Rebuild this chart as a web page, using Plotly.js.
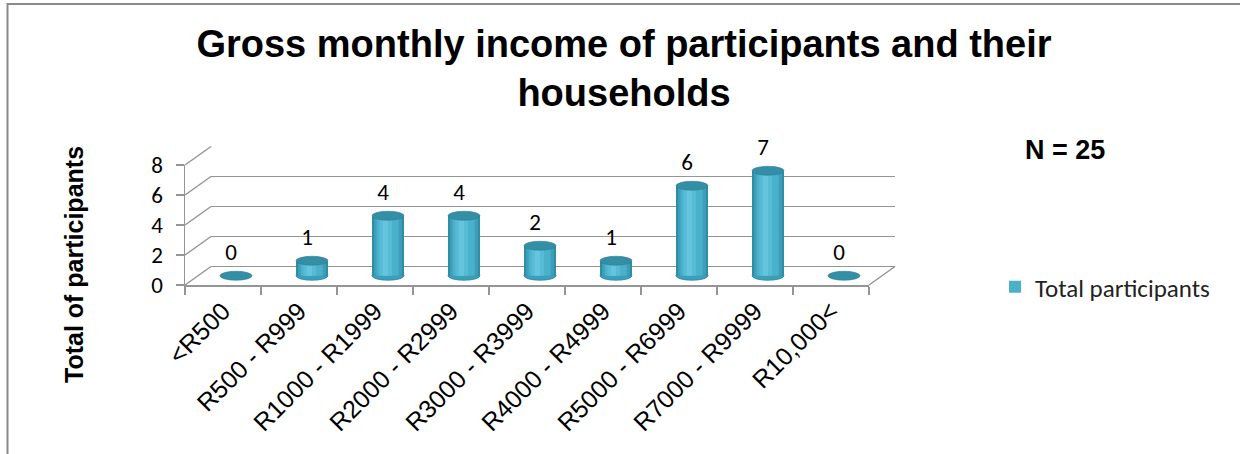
<!DOCTYPE html>
<html>
<head>
<meta charset="utf-8">
<script src="https://cdn.plot.ly/plotly-3.0.1.min.js"></script>
<style>html,body{margin:0;padding:0;background:#fff;}#chart{width:1240px;height:454px;}</style>
</head>
<body>
<div id="chart"></div>
<script>
// ---- data ----
const categories = ["<R500", "R500 - R999", "R1000 - R1999", "R2000 - R2999", "R3000 - R3999",
                    "R4000 - R4999", "R5000 - R6999", "R7000 - R9999", "R10,000<"];
const participants = [0, 1, 4, 4, 2, 1, 6, 7, 0];
const yTickValues = [0, 2, 4, 6, 8];
const seriesName = "Total participants";
const chartTitle = "Gross monthly income of participants and their<br>households";
const yTitle = "Total of participants";
const noteText = "N = 25";

// ---- geometry helpers (pixel -> paper) ----
const W = 1240, H = 454;
const px = x => x / W;
const py = y => 1 - y / H;
const FX0 = 185, FX1 = 869, FY0 = 285, FY8 = 165; // front plane (pixels)
const DX = 26, DY = 18.5;                          // depth offset to back wall (pixels)
const yMax = 8;
const fy = v => FY0 + (FY8 - FY0) * v / yMax;
const catPx = (FX1 - FX0) / categories.length;     // pixels per category
const unitPx = (FY0 - FY8) / yMax;                 // pixels per unit
const midX = (DX / 2) / catPx;                     // mid-depth shift, category units
const midY = (DY / 2) / unitPx;                    // mid-depth shift, value units

const ARIAL = "Liberation Sans, Arial, sans-serif";
const CALIBRI = "Carlito, Lato, sans-serif";
const GRID = "#959595";

// cylinder shading layers (outer -> inner); shift = extra offset of a highlight strip
const layers = [
  {w: 0.42, shift: 0, color: "#2e88a0", plane: "back"},
  {w: 0.37, shift: 0, color: "#3a9fba", plane: "front"},
  {w: 0.29, shift: -0.005, color: "#4bb0ca", plane: "front", legend: true},
  {w: 0.17, shift: -0.03, color: "#56bbd5", plane: "front"},
  {w: 0.07, shift: -0.035, color: "#66c5de", plane: "front"}
];
const RX = 0.21, RY = 0.3;

const traces = layers.map(L => {
  const back = L.plane === "back";
  return {
    type: "bar", x: categories, y: participants,
    xaxis: back ? "x" : "x2", yaxis: back ? "y" : "y2",
    base: back ? -midY : midY,
    offset: (back ? -midX : midX) - L.w / 2 + L.shift,
    width: L.w, marker: {color: L.color, line: {width: 0}},
    name: seriesName, showlegend: !!L.legend, hoverinfo: "skip"
  };
});
traces.push({
  type: "scatter", mode: "text", x: categories, y: participants,
  xaxis: "x3", yaxis: "y3", text: participants.map(String),
  textposition: "middle center", cliponaxis: false, showlegend: false,
  textfont: {family: CALIBRI, size: 23, color: "#000"}, hoverinfo: "skip"
});

const shapes = [];
// chart border
shapes.push({type: "rect", xref: "paper", yref: "paper", x0: px(7.5), x1: 1.05, y0: -0.05, y1: py(4),
             line: {color: "#8a8a8a", width: 2}, fillcolor: "rgba(0,0,0,0)"});
// diagonals from front axis to back wall
yTickValues.forEach(v => {
  shapes.push({type: "line", xref: "paper", yref: "paper",
    x0: px(FX0), y0: py(fy(v)), x1: px(FX0 + DX), y1: py(fy(v) - DY),
    line: {color: GRID, width: 1.5}});
});
// floor right edge
shapes.push({type: "line", xref: "paper", yref: "paper",
  x0: px(FX1), y0: py(FY0), x1: px(FX1 + DX), y1: py(FY0 - DY),
  line: {color: GRID, width: 1.5}});
// cylinder bottoms (behind the bodies) and tops
participants.forEach((v, i) => {
  if (v > 0) {
    shapes.push({type: "circle", xref: "x", yref: "y", layer: "between",
      x0: i - midX - RX, x1: i - midX + RX, y0: -midY - RY, y1: -midY + RY,
      fillcolor: "#3a9fba", line: {color: "#2e88a0", width: 0.8}});
  }
  shapes.push({type: "circle", xref: "x2", yref: "y2", layer: "above",
    x0: i + midX - RX, x1: i + midX + RX, y0: v + midY - RY, y1: v + midY + RY,
    fillcolor: "#338ea6", line: {color: "#2b8299", width: 0.6}});
});

const backLo = -1.3, backHi = 8.05;

const layout = {
  width: W, height: H,
  margin: {l: 0, r: 0, t: 0, b: 0},
  paper_bgcolor: "#fff", plot_bgcolor: "rgba(0,0,0,0)",
  barmode: "overlay",
  showlegend: true,
  title: {text: chartTitle, x: px(624), xanchor: "center", y: py(57), yanchor: "top",
          xref: "paper", yref: "paper",
          font: {family: ARIAL, size: 38, weight: 700, color: "#000"}},
  // back wall (grid) subplot
  xaxis: {domain: [px(FX0 + DX), px(FX1 + DX)], anchor: "y", type: "category",
          categoryorder: "array", categoryarray: categories, range: [-0.5, 8.5],
          showgrid: false, zeroline: false, showticklabels: false, ticks: "", showline: false, fixedrange: true},
  yaxis: {domain: [py(FY0 - DY - backLo * unitPx), py(FY0 - DY - backHi * unitPx)], anchor: "x",
          range: [backLo, backHi], tickmode: "array", tickvals: yTickValues,
          showgrid: true, gridcolor: GRID, gridwidth: 1.5,
          zeroline: false, showticklabels: false, ticks: "", showline: false, fixedrange: true},
  // front axes subplot
  xaxis2: {domain: [px(FX0), px(FX1)], anchor: "y2", type: "category",
           categoryorder: "array", categoryarray: categories, range: [-0.5, 8.5],
           tickson: "boundaries", ticks: "outside", ticklen: 8, tickcolor: GRID, tickwidth: 1.5,
           tickangle: -45, tickfont: {family: ARIAL, size: 25, color: "#000"},
           showline: true, linecolor: GRID, linewidth: 1.5, showgrid: false, zeroline: false, fixedrange: true},
  yaxis2: {domain: [py(FY0), py(FY8)], anchor: "x2", range: [0, 8], tickmode: "array", tickvals: yTickValues,
           ticks: "outside", ticklen: 8, tickcolor: GRID, tickwidth: 1.5, ticklabelstandoff: 8,
           tickfont: {family: CALIBRI, size: 23, color: "#000"},
           showline: true, linecolor: GRID, linewidth: 1.5, showgrid: false, zeroline: false, fixedrange: true},
  // data labels subplot
  xaxis3: {domain: [px(FX0 + DX / 2 - 5), px(FX1 + DX / 2 - 5)], anchor: "y3", type: "category",
           categoryorder: "array", categoryarray: categories, range: [-0.5, 8.5], visible: false, fixedrange: true},
  yaxis3: {domain: [py(FY0 - DY / 2 - 21.5), py(FY8 - DY / 2 - 21.5)], anchor: "x3", range: [0, 8],
           visible: false, fixedrange: true},
  legend: {x: px(995), y: py(287), xanchor: "left", yanchor: "middle",
           font: {family: CALIBRI, size: 25, color: "#222"}, bgcolor: "rgba(0,0,0,0)"},
  annotations: [
    {text: yTitle, textangle: -90, x: px(74), y: py(265), xref: "paper", yref: "paper",
     xanchor: "center", yanchor: "middle", showarrow: false,
     font: {family: ARIAL, size: 25, weight: 700, color: "#000"}},
    {text: noteText, x: px(1065), y: py(150), xref: "paper", yref: "paper",
     xanchor: "center", yanchor: "middle", showarrow: false,
     font: {family: ARIAL, size: 27, weight: 700, color: "#000"}}
  ],
  shapes: shapes
};

Plotly.newPlot("chart", traces, layout, {displayModeBar: false, staticPlot: true});
</script>
</body>
</html>
